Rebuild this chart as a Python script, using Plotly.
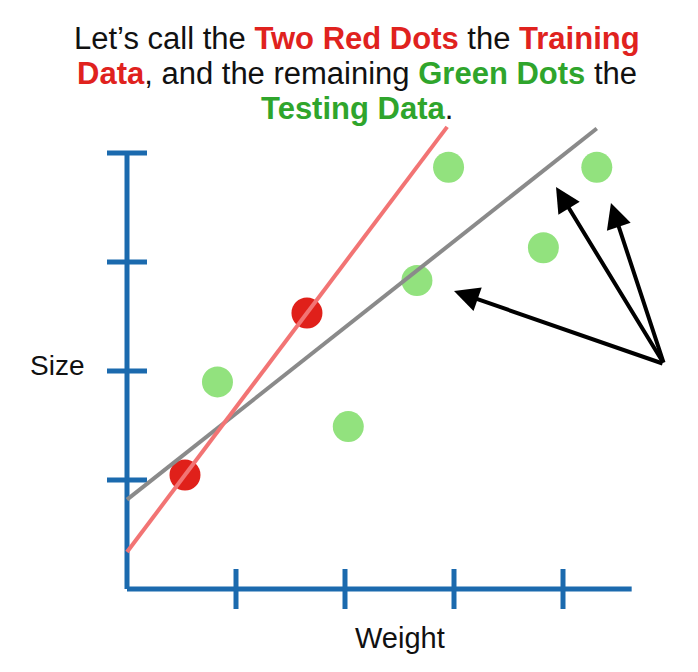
import numpy as np
import plotly.graph_objects as go

# ---------------- data ----------------
red_x = [0.532, 1.651]
red_y = [1.046, 2.532]
green_x = [0.83, 2.03, 2.66, 2.95, 3.82, 4.31]
green_y = [1.90, 1.49, 2.83, 3.87, 3.13, 3.87]
gray_intercept = 0.82
gray_slope = 0.79
gray_x_end = 4.31
red_line_top = 4.24
x_ticks = [1, 2, 3, 4]
y_ticks = [1, 2, 3, 4]
x_axis_end = 4.63
y_axis_end = 4
arrow_heads_x = [3.0, 3.936, 4.44]
arrow_heads_y = [2.734, 3.688, 3.541]
arrow_tail = (4.927, 2.064)

BLUE = "#1b6aae"
RED = "#e0201a"
GREEN = "#92e27e"
RED_TXT = "#e0221e"
GREEN_TXT = "#2fa52c"

PAD = 8  # page body margin
W, H = 698 - 2 * PAD, 672 - 2 * PAD
ox, oy, unit = 127 - PAD, 589 - PAD, 109  # pixel origin / unit size


def px(x):
    return (x - PAD) / W


def py(y):
    return 1 - (y - PAD) / H


# red line: fit through the training data
slope, icpt = np.polyfit(red_x, red_y, 1)
red_line_x = [0, (red_line_top - icpt) / slope]
red_line_y = [icpt + slope * v for v in red_line_x]
gray_line_x = [0, gray_x_end]
gray_line_y = [gray_intercept + gray_slope * v for v in gray_line_x]

fig = go.Figure()
fig.add_trace(go.Scatter(x=green_x, y=green_y, mode="markers",
                         marker=dict(size=31, color=GREEN), hoverinfo="skip"))
fig.add_trace(go.Scatter(x=red_x, y=red_y, mode="markers",
                         marker=dict(size=31, color=RED), hoverinfo="skip"))
fig.add_trace(go.Scatter(x=gray_line_x, y=gray_line_y, mode="lines",
                         line=dict(color="#8a8a8a", width=4), hoverinfo="skip"))
fig.add_trace(go.Scatter(x=red_line_x, y=red_line_y, mode="lines",
                         line=dict(color="#f27474", width=4), hoverinfo="skip"))

shapes = []
half = 20 / unit
shapes.append(dict(type="line", x0=0, y0=0, x1=x_axis_end, y1=0,
                   line=dict(color=BLUE, width=5), layer="below"))
shapes.append(dict(type="line", x0=0, y0=0, x1=0, y1=y_axis_end,
                   line=dict(color=BLUE, width=5), layer="below"))
for t in x_ticks:
    shapes.append(dict(type="line", x0=t, y0=-half, x1=t, y1=half,
                       line=dict(color=BLUE, width=5), layer="below"))
for t in y_ticks:
    shapes.append(dict(type="line", x0=-half, y0=t, x1=half, y1=t,
                       line=dict(color=BLUE, width=5), layer="below"))

title_lines = [
    "Let’s call the <b><span style='color:%s'>Two Red Dots</span></b> the "
    "<b><span style='color:%s'>Training</span></b>" % (RED_TXT, RED_TXT),
    "<b><span style='color:%s'>Data</span></b>, and the remaining "
    "<b><span style='color:%s'>Green Dots</span></b> the" % (RED_TXT, GREEN_TXT),
    "<b><span style='color:%s'>Testing Data</span></b>." % GREEN_TXT,
]
title_y = [38, 74, 109]

annotations = []
for t, yy in zip(title_lines, title_y):
    annotations.append(dict(text=t, xref="paper", yref="paper",
                            x=px(357), y=py(yy), xanchor="center", yanchor="middle",
                            showarrow=False,
                            font=dict(family="Liberation Sans", size=31, color="#111111")))
annotations.append(dict(text="Size", xref="paper", yref="paper",
                        x=px(57), y=py(365), xanchor="center", yanchor="middle",
                        showarrow=False,
                        font=dict(family="Liberation Sans", size=28, color="#111111")))
annotations.append(dict(text="Weight", xref="paper", yref="paper",
                        x=px(400), y=py(638), xanchor="center", yanchor="middle",
                        showarrow=False,
                        font=dict(family="Liberation Sans", size=29, color="#111111")))
for hx, hy in zip(arrow_heads_x, arrow_heads_y):
    annotations.append(dict(text="", x=hx, y=hy, xref="x", yref="y",
                            ax=arrow_tail[0], ay=arrow_tail[1], axref="x", ayref="y",
                            showarrow=True, arrowhead=2, arrowsize=1.25, arrowwidth=4,
                            arrowcolor="black", standoff=0, startstandoff=0))

fig.update_layout(
    width=W, height=H,
    margin=dict(l=0, r=0, t=0, b=0),
    paper_bgcolor="white", plot_bgcolor="white",
    showlegend=False,
    xaxis=dict(range=[-ox / unit, (W - ox) / unit], visible=False, fixedrange=True),
    yaxis=dict(range=[(oy - H) / unit, oy / unit], visible=False, fixedrange=True),
    shapes=shapes,
    annotations=annotations,
)

fig.write_html("out.html")
